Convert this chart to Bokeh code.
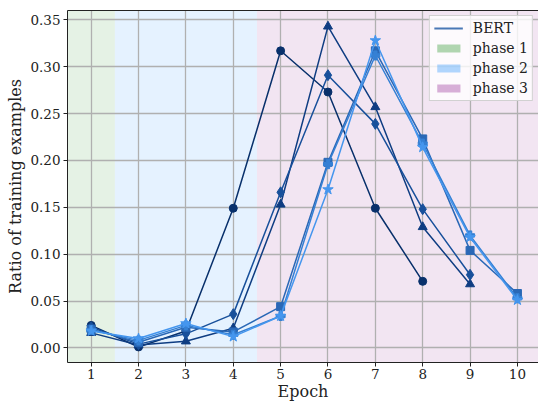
import math
from bokeh.plotting import figure
from bokeh.models import (FixedTicker, NumeralTickFormatter, Legend, LegendItem,
                          Range1d, LinearAxis, ColumnDataSource)
from bokeh.embed import file_html
from bokeh.resources import INLINE

# ---------------- data ----------------
epochs = [1, 2, 3, 4, 5, 6, 7, 8, 9, 10]
s_circle = [0.024, 0.001, 0.018, 0.149, 0.317, 0.273, 0.149, 0.071]
s_triangle = [0.016, 0.003, 0.007, 0.021, 0.153, 0.343, 0.257, 0.129, 0.068]
s_diamond = [0.022, 0.004, 0.015, 0.036, 0.166, 0.291, 0.239, 0.148, 0.078]
s_square = [0.020, 0.006, 0.022, 0.017, 0.044, 0.198, 0.317, 0.223, 0.104, 0.058]
s_plus = [0.019, 0.008, 0.024, 0.014, 0.034, 0.196, 0.312, 0.218, 0.120, 0.053]
s_star = [0.018, 0.010, 0.026, 0.012, 0.034, 0.169, 0.328, 0.214, 0.118, 0.051]

phase_labels = ["phase 1", "phase 2", "phase 3"]
phase_left = [0.5, 1.5, 4.5]
phase_right = [1.5, 4.5, 10.5]

y_ticks = [0.0, 0.05, 0.10, 0.15, 0.20, 0.25, 0.30, 0.35]
legend_label = "BERT"

# ---------------- styles ----------------
series = [s_circle, s_triangle, s_diamond, s_square, s_plus, s_star]
markers = ["circle", "triangle", "diamond", "square", "plus", "star"]
msizes = [8, 9, 11, 8, 9, 11]
colors = ["#08306b", "#0f3d82", "#18509b", "#2a68b6", "#3580d4", "#4596ee"]
phase_colors = ["#008000", "#0080ff", "#800080"]
FONT = "DejaVu Serif"
TXT = "#222222"
NAN = float("nan")

p = figure(width=538, height=403, output_backend="svg", toolbar_location=None,
           x_range=Range1d(0.5, 10.445), y_range=Range1d(-0.0156, 0.36),
           min_border_left=67, min_border_right=0, min_border_top=10,
           min_border_bottom=40)
p.outline_line_color = None
p.background_fill_color = "white"

# phase backgrounds
psrc = ColumnDataSource(dict(left=phase_left, right=phase_right, color=phase_colors,
                             hidden=[NAN] * len(phase_left)))
p.quad(left="left", right="right", bottom=-1, top=1, fill_color="color",
       fill_alpha=0.1, line_color=None, source=psrc, level="image")
# legend proxy for the phases (zero-height, not visible in the plot)
r_phase_leg = p.quad(left="left", right="right", bottom="hidden", top="hidden",
                     fill_color="color", fill_alpha=0.3, line_color=None, source=psrc)

# series
for vals, mk, ms, c in zip(series, markers, msizes, colors):
    xs = epochs[:len(vals)]
    p.line(xs, vals, line_color=c, line_width=1.5)
    p.scatter(xs, vals, marker=mk, size=ms, fill_color=c, line_color=c)

# grid
for g in (p.xgrid, p.ygrid):
    g.grid_line_color = "#b0b0b0"
    g.grid_line_width = 1.3

# axes
p.xaxis.ticker = FixedTicker(ticks=epochs)
p.yaxis.ticker = FixedTicker(ticks=y_ticks)
p.yaxis.formatter = NumeralTickFormatter(format="0.00")
p.xaxis.axis_label = "Epoch"
p.yaxis.axis_label = "Ratio of training examples"
for ax in (p.xaxis[0], p.yaxis[0]):
    ax.axis_line_color = "#222222"
    ax.axis_line_width = 1
    ax.major_tick_line_color = "#222222"
    ax.major_tick_out = 4
    ax.major_tick_in = 0
    ax.minor_tick_line_color = None
    ax.major_label_text_font = FONT
    ax.major_label_text_font_size = "13.5px"
    ax.major_label_text_color = TXT
    ax.axis_label_text_font = FONT
    ax.axis_label_text_font_size = "16px"
    ax.axis_label_text_font_style = "normal"
    ax.axis_label_text_color = TXT
    ax.major_label_standoff = 3
    ax.axis_label_standoff = 2
p.xaxis.axis_label_standoff = 0
p.xaxis.major_label_standoff = 2

top_axis = LinearAxis(ticker=FixedTicker(ticks=[]), major_label_text_font_size="0px",
                      major_tick_out=0, major_tick_in=0, minor_tick_out=0,
                      minor_tick_in=0, axis_line_color="#222222",
                      major_label_standoff=0)
p.add_layout(top_axis, "above")

# legend
r_bert = p.line(epochs, [NAN] * len(epochs), line_color="#4a78b6", line_width=2)
items = [LegendItem(label=legend_label, renderers=[r_bert])]
for i, lab in enumerate(phase_labels):
    items.append(LegendItem(label=lab, renderers=[r_phase_leg], index=i))
legend = Legend(items=items, location="top_right", margin=5, padding=4,
                spacing=4, glyph_width=29, glyph_height=10, label_height=16,
                label_standoff=10, label_text_font=FONT,
                label_text_font_size="14px", label_text_color=TXT,
                background_fill_color="white", background_fill_alpha=0.8,
                border_line_color="#cccccc", border_line_alpha=0.9)
p.add_layout(legend, "center")

open("out.html", "w").write(file_html(p, INLINE))
